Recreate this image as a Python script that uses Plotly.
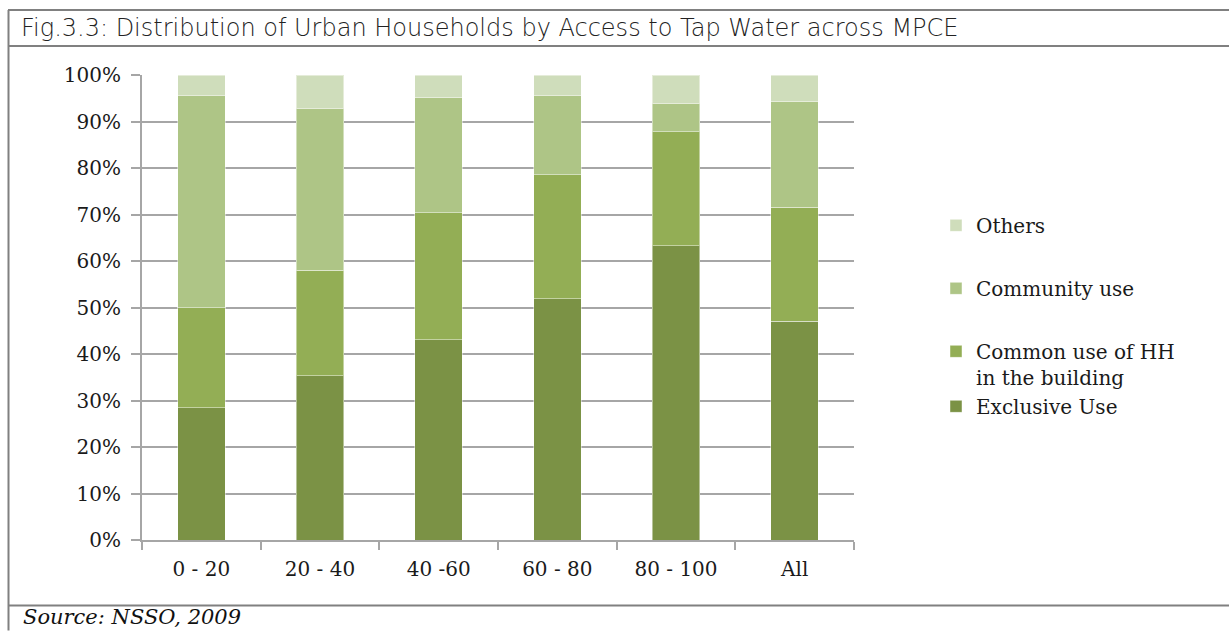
import plotly.graph_objects as go

categories = ["0 - 20", "20 - 40", "40 -60", "60 - 80", "80 - 100", "All"]
exclusive_use = [28.4, 35.3, 43.1, 51.9, 63.3, 47.0]
common_use_hh = [21.6, 22.7, 27.3, 26.6, 24.5, 24.6]
community_use = [45.5, 34.7, 24.8, 17.0, 6.0, 22.8]
others = [4.5, 7.3, 4.8, 4.5, 6.2, 5.6]
y_ticks = [0, 10, 20, 30, 40, 50, 60, 70, 80, 90, 100]
y_tick_labels = [f"{v}%" for v in y_ticks]

W, H = 1229, 631
L, R, T, B = 142, 854, 75, 540.5

def px(x):
    return (x - L) / (R - L)

def py(y):
    return (B - y) / (B - T)

series = [
    ("Exclusive Use", exclusive_use, "#7B9245", "g3", 4),
    ("Common use of HH<br>in the building", common_use_hh, "#93AE55", "g3", 3),
    ("Community use", community_use, "#AEC586", "g2", 2),
    ("Others", others, "#CFDDBB", "g1", 1),
]

fig = go.Figure()
for name, vals, col, grp, rank in series:
    fig.add_trace(go.Bar(
        x=categories, y=vals, name=name, legendgroup=grp, legendrank=rank,
        marker=dict(color=col, line=dict(color="rgba(255,255,255,0.45)", width=1)),
    ))

serif = "DejaVu Serif"
fig.update_layout(
    width=W, height=H,
    margin=dict(l=L, r=W - R, t=T, b=H - B),
    barmode="stack", bargap=0.6,
    plot_bgcolor="white", paper_bgcolor="white",
    showlegend=True,
    legend=dict(
        x=px(936), y=py(206), xanchor="left", yanchor="top",
        traceorder="grouped", tracegroupgap=34, valign="top",
        font=dict(family=serif, size=20, color="#1a1a1a"),
        groupclick="toggleitem",
    ),
    xaxis=dict(
        showline=True, linecolor="#A6A6A6", linewidth=2,
        ticks="outside", ticklen=8, tickcolor="#A6A6A6", tickwidth=2,
        tickson="boundaries",
        tickfont=dict(family=serif, size=20, color="#1a1a1a"),
        ticklabelstandoff=10,
    ),
    yaxis=dict(
        range=[0, 100], tickvals=y_ticks, ticktext=y_tick_labels,
        showgrid=True, gridcolor="#A6A6A6", gridwidth=2,
        showline=True, linecolor="#A6A6A6", linewidth=2,
        ticks="outside", ticklen=9, tickcolor="#A6A6A6", tickwidth=2,
        tickfont=dict(family=serif, size=20, color="#1a1a1a"),
        ticklabelstandoff=6, zeroline=False,
    ),
)

border = dict(color="#808080", width=2)
fig.add_shape(type="line", xref="paper", yref="paper", x0=px(8), x1=px(1229), y0=py(10), y1=py(10), line=border)
fig.add_shape(type="line", xref="paper", yref="paper", x0=px(8), x1=px(1229), y0=py(46), y1=py(46), line=border)
fig.add_shape(type="line", xref="paper", yref="paper", x0=px(8), x1=px(1229), y0=py(606), y1=py(606), line=border)
fig.add_shape(type="line", xref="paper", yref="paper", x0=px(8.5), x1=px(8.5), y0=py(10), y1=py(631), line=border)

fig.add_annotation(
    text="Fig.3.3: Distribution of Urban Households by Access to Tap Water across MPCE",
    xref="paper", yref="paper", x=px(19), y=py(28), xanchor="left", yanchor="middle",
    showarrow=False,
    font=dict(family="DejaVu Sans ExtraLight, DejaVu Sans", size=24, color="#222222", weight=200),
)
fig.add_annotation(
    text="<i>Source: NSSO, 2009</i>",
    xref="paper", yref="paper", x=px(21), y=py(618), xanchor="left", yanchor="middle",
    showarrow=False, font=dict(family=serif, size=21, color="#111111"),
)

fig.write_html("out.html")
